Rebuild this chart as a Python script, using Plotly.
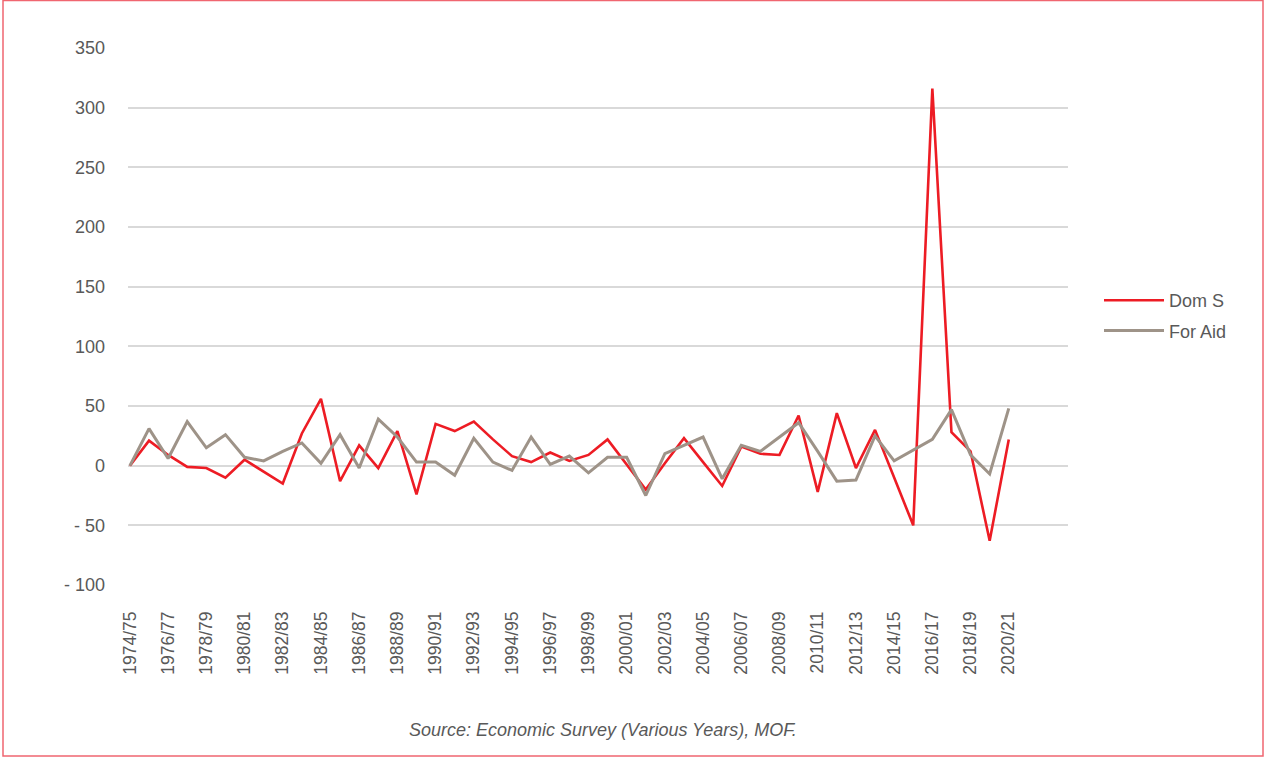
import plotly.graph_objects as go

# ---- data ----
years = ["1974/75", "1975/76", "1976/77", "1977/78", "1978/79", "1979/80", "1980/81", "1981/82",
         "1982/83", "1983/84", "1984/85", "1985/86", "1986/87", "1987/88", "1988/89", "1989/90",
         "1990/91", "1991/92", "1992/93", "1993/94", "1994/95", "1995/96", "1996/97", "1997/98",
         "1998/99", "1999/00", "2000/01", "2001/02", "2002/03", "2003/04", "2004/05", "2005/06",
         "2006/07", "2007/08", "2008/09", "2009/10", "2010/11", "2011/12", "2012/13", "2013/14",
         "2014/15", "2015/16", "2016/17", "2017/18", "2018/19", "2019/20", "2020/21"]

dom_s = [0, 21, 9, -1, -2, -10, 5, -5, -15, 27, 56, -13, 17, -2, 29, -24,
         35, 29, 37, 22, 8, 3, 11, 4, 9, 22, 1, -20, 2, 23, 3, -17,
         16, 10, 9, 42, -22, 44, -2, 30, -10, -50, 316, 28, 12, -63, 22]

for_aid = [0, 31, 6, 37, 15, 26, 7, 4, 12, 19, 2, 26, -2, 39, 24, 3,
           3, -8, 23, 3, -4, 24, 1, 8, -6, 7, 7, -25, 10, 17, 24, -11,
           17, 12, 24, 36, 12, -13, -12, 25, 4, 13, 22, 47, 9, -7, 48]

x_tick_labels = ["1974/75", "1976/77", "1978/79", "1980/81", "1982/83", "1984/85", "1986/87",
                 "1988/89", "1990/91", "1992/93", "1994/95", "1996/97", "1998/99", "2000/01",
                 "2002/03", "2004/05", "2006/07", "2008/09", "2010/11", "2012/13", "2014/15",
                 "2016/17", "2018/19", "2020/21"]

y_tick_values = [-100, -50, 0, 50, 100, 150, 200, 250, 300, 350]
y_tick_labels = ["- 100", "- 50", "0", "50", "100", "150", "200", "250", "300", "350"]

series_names = ["Dom S", "For Aid"]
source_text = "Source: Economic Survey (Various Years), MOF."

# ---- styles ----
RED = "#ED1C24"
GRAY = "#9E9388"
TEXT = "#595959"
FONT = "Liberation Sans, Arial, Helvetica, sans-serif"
FS = 18

fig = go.Figure()
fig.add_trace(go.Scatter(x=years, y=dom_s, mode="lines", name=series_names[0],
                         legendgroup="a", line=dict(color=RED, width=2.6)))
fig.add_trace(go.Scatter(x=years, y=for_aid, mode="lines", name=series_names[1],
                         legendgroup="b", line=dict(color=GRAY, width=3)))

L, R, T, B = 128, 197, 48, 173
W, H = 1265, 758
pw, ph = W - L - R, H - T - B

def px(x):
    return (x - L) / pw

def py(y):
    return (H - B - y) / ph

fig.update_layout(
    width=W, height=H,
    margin=dict(l=L, r=R, t=T, b=B),
    paper_bgcolor="white", plot_bgcolor="white",
    font=dict(family=FONT, size=FS, color=TEXT),
    xaxis=dict(type="category", categoryorder="array", categoryarray=years,
               range=[-0.1, 49.1], tickmode="array", tickvals=x_tick_labels,
               ticktext=x_tick_labels, tickangle=-90, showgrid=False,
               showline=False, zeroline=False, ticks="", ticklabelstandoff=22,
               tickfont=dict(size=17.5, color=TEXT)),
    yaxis=dict(range=[-100, 350], tickmode="array", tickvals=y_tick_values,
               ticktext=y_tick_labels, showgrid=True, gridcolor="#D9D9D9",
               gridwidth=2, zeroline=False, showline=False, ticks="",
               ticklabelstandoff=22, tickfont=dict(size=FS, color=TEXT)),
    legend=dict(x=px(1099), y=py(282), xanchor="left", yanchor="top",
                traceorder="grouped", tracegroupgap=4, itemwidth=60,
                font=dict(size=FS, color=TEXT), bgcolor="rgba(0,0,0,0)"),
    annotations=[dict(text=source_text, xref="paper", yref="paper",
                      x=px(603), y=py(730), xanchor="center", yanchor="middle",
                      showarrow=False,
                      font=dict(size=FS, color=TEXT, family=FONT, style="italic"))],
    shapes=[dict(type="rect", xref="paper", yref="paper",
                 x0=px(3), x1=px(1263), y0=py(756), y1=py(0.5),
                 line=dict(color="#F06670", width=1.5), fillcolor="rgba(0,0,0,0)",
                 layer="above")],
)

fig.write_html("out.html", config={"displayModeBar": False},
               post_script="document.body.style.margin='0';document.body.style.overflow='hidden';")
